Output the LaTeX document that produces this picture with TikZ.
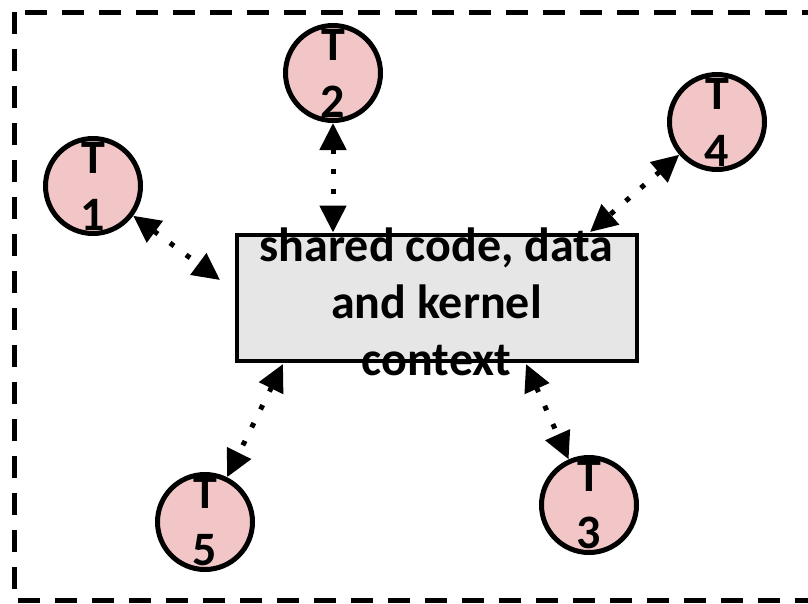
\documentclass[tikz,border=0pt]{standalone}
\usepackage{fontspec}
\setmainfont{Carlito}
\usetikzlibrary{arrows.meta}
\definecolor{thrfill}{HTML}{F2C6C6}
\definecolor{boxfill}{HTML}{E6E6E6}
\tikzset{
  thread/.style={circle, draw=black, line width=5pt, fill=thrfill, minimum size=95pt, inner sep=0pt,
    align=center, font=\fontsize{48}{57}\selectfont\bfseries},
  sharedbox/.style={rectangle, draw=black, line width=4pt, fill=boxfill, minimum width=400pt, minimum height=126pt, inner sep=0pt},
  boxtext/.style={align=center, inner sep=0pt, font=\fontsize{48}{57}\selectfont\bfseries},
  link/.style={line width=5pt, dash pattern=on 5pt off 15pt, {Triangle[length=27pt,width=26pt]}-{Triangle[length=27pt,width=26pt]}},
  frame/.style={line width=5pt, dash pattern=on 22pt off 15pt}
}
\begin{document}
\begin{tikzpicture}[x=1pt,y=-1pt]
\useasboundingbox (0,0) rectangle (808,603);
\draw[frame] (14,12) rectangle (830,600);
\node[sharedbox] (rect) at (436.5,297.5) {};
\node[boxtext] (rtext) at (436.5,302) {shared code, data\\and kernel\\context};
\node[thread] (t1) at (93,186) {T\\1};
\node[thread] (t2) at (333,73) {T\\2};
\node[thread] (t3) at (589,505) {T\\3};
\node[thread] (t4) at (717,122) {T\\4};
\node[thread] (t5) at (205,522) {T\\5};
\coordinate (c1) at (220,280);
\coordinate (c4) at (590,232);
\coordinate (c5) at (283,364);
\coordinate (c3) at (526,364);
\draw[link] (t1) -- (c1);
\draw[link] (t2) -- (t2 |- rect.north);
\draw[link] (t4) -- (c4);
\draw[link] (c5) -- (t5);
\draw[link] (c3) -- (t3);
\end{tikzpicture}
\end{document}
